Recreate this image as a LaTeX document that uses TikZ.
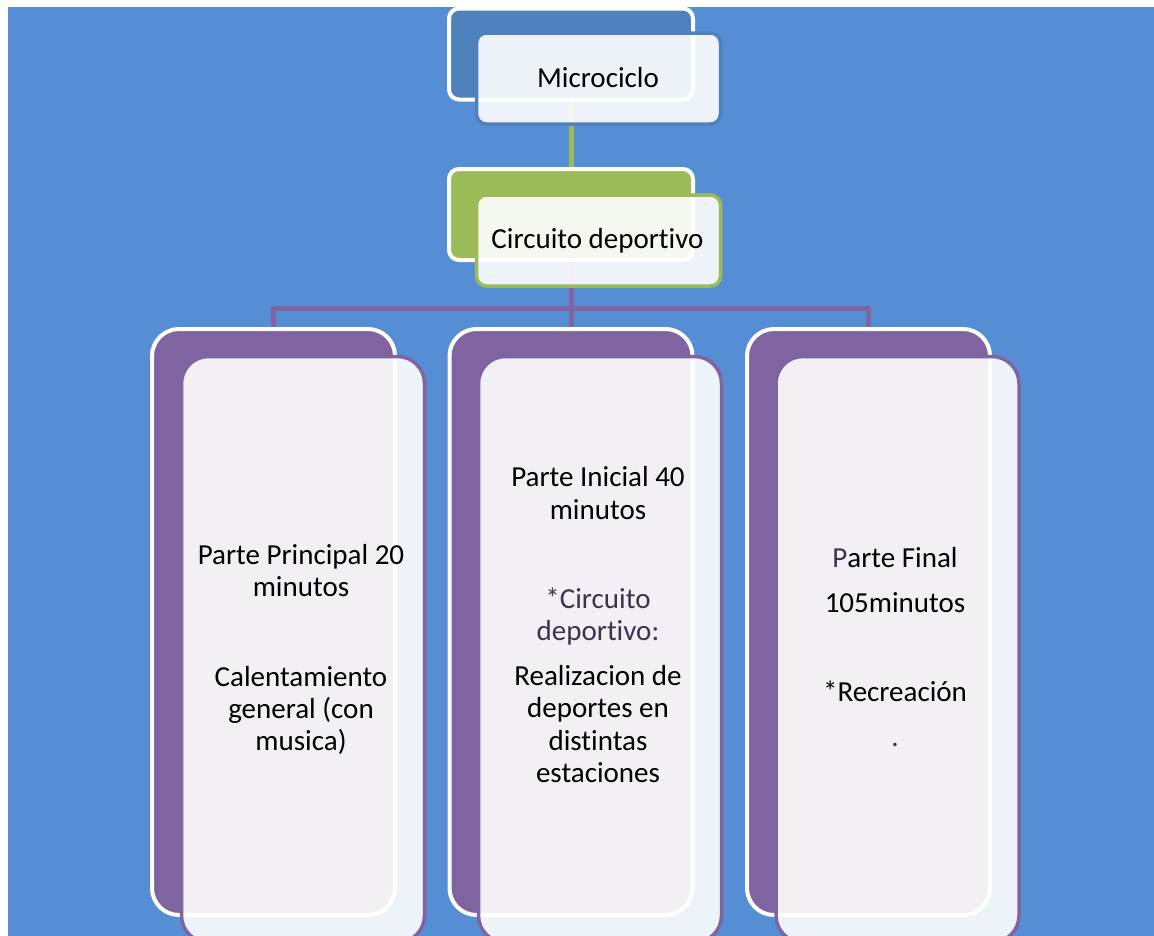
\documentclass[tikz,border=0pt]{standalone}
\usepackage{fontspec}
\setmainfont{Carlito}[Ligatures={NoCommon}]
\definecolor{bgblue}{HTML}{558ED5}
\definecolor{dblue}{HTML}{4F81BD}
\definecolor{lgreen}{HTML}{9BBB59}
\definecolor{lpurple}{HTML}{8064A2}
\definecolor{tpurple}{HTML}{3F3151}
\tikzset{
  backbox/.style={draw=white, line width=4pt, inner sep=0pt},
  frontbox/.style={fill=white, fill opacity=0.9, line width=3.5pt, inner sep=0pt},
  topsize/.style={minimum width=244pt, minimum height=91pt, rounded corners=10pt},
  colsize/.style={minimum width=243pt, minimum height=586pt, rounded corners=27pt},
  gline/.style={draw=lgreen, line width=5pt},
  pline/.style={draw=lpurple, line width=5pt},
  txt/.style={font=\fontsize{29}{33}\selectfont, inner sep=0pt, anchor=base},
}
\begin{document}
\begin{tikzpicture}[x=1pt,y=-1pt]
\useasboundingbox (0,0) rectangle (1154,935);
\clip (0,0) rectangle (1154,935);
\fill[bgblue] (8,7) rectangle (1160,945);

% back boxes
\node[backbox, topsize, fill=dblue] (mback) at (571,54) {};
\node[backbox, topsize, fill=lgreen] (gback) at (571,214.5) {};
\node[backbox, colsize, fill=lpurple] (aback) at (273.5,622) {};
\node[backbox, colsize, fill=lpurple] (bback) at (571,622) {};
\node[backbox, colsize, fill=lpurple] (cback) at (868.5,622) {};

% connectors
\coordinate (bus) at (571,308);
\draw[gline] (mback.south) -- (gback.north);
\draw[pline] (gback.south) -- (bus);
\draw[pline] (bus) -| (aback.north);
\draw[pline] (bus) -| (cback.north);
\draw[pline] (bus) -- (bback.north);

% front boxes
\node[frontbox, topsize, draw=dblue] (mfront) at (598.5,78.5) {};
\node[frontbox, topsize, draw=lgreen] (gfront) at (598.5,240.5) {};
\node[frontbox, colsize, draw=lpurple] (afront) at (303,649.5) {};
\node[frontbox, colsize, draw=lpurple] (bfront) at (600,649.5) {};
\node[frontbox, colsize, draw=lpurple] (cfront) at (897.5,649.5) {};

% texts
\node[txt] (mt) at (598,87) {Microciclo};
\node[txt] (gt) at (597.5,248) {Circuito deportivo};

\node[txt] (a1) at (301,564) {Parte Principal 20};
\node[txt] (a2) at (301,596) {minutos};
\node[txt] (a3) at (301,686) {Calentamiento};
\node[txt] (a4) at (301,718) {general (con};
\node[txt] (a5) at (301,750) {musica)};

\node[txt] (b1) at (598,486) {Parte Inicial 40};
\node[txt] (b2) at (598,519) {minutos};
\node[txt, text=tpurple] (b3) at (598,608) {*Circuito};
\node[txt, text=tpurple] (b4) at (598,640) {deportivo:};
\node[txt] (b5) at (598,685) {Realizacion de};
\node[txt] (b6) at (598,717) {deportes en};
\node[txt] (b7) at (598,750) {distintas};
\node[txt] (b8) at (598,782) {estaciones};

\node[txt] (c1) at (895,567) {\textcolor{tpurple}{P}arte Final};
\node[txt] (c2) at (895,612) {105minutos};
\node[txt] (c3) at (895,701) {*Recreación};
\node[txt, text=tpurple] (c4) at (895,746) {.};
\end{tikzpicture}
\end{document}
